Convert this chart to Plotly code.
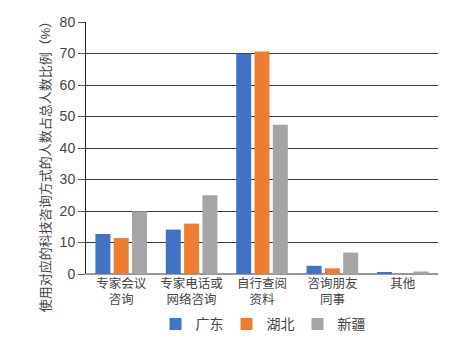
import plotly.graph_objects as go

categories = ["专家会议<br>咨询", "专家电话或<br>网络咨询", "自行查阅<br>资料", "咨询朋友<br>同事", "其他"]
guangdong = [12.7, 14.1, 69.9, 2.6, 0.5]
hubei = [11.4, 16.0, 70.6, 1.8, 0.0]
xinjiang = [19.9, 25.0, 47.4, 6.8, 0.8]
series_names = ["广东", "湖北", "新疆"]
colors = ["#4472C4", "#ED7D31", "#A5A5A5"]
y_title = "使用对应的科技咨询方式的人数占总人数比例（%）"

font_family = "Liberation Sans, Noto Sans CJK SC, sans-serif"

fig = go.Figure()
for name, vals, c in zip(series_names, [guangdong, hubei, xinjiang], colors):
    fig.add_trace(go.Bar(x=categories, y=vals, name=name, marker=dict(color=c, line=dict(width=0))))

fig.update_layout(
    width=455, height=339,
    margin=dict(l=86, r=17, t=22, b=65, autoexpand=False),
    paper_bgcolor="white", plot_bgcolor="white",
    barmode="group", bargap=0.22, bargroupgap=0.18,
    font=dict(family=font_family, size=13, color="#444444"),
    showlegend=True,
    legend=dict(orientation="h", x=0.5, xanchor="center", y=-0.2, yanchor="middle",
                font=dict(size=14, color="#444444"), itemwidth=30, traceorder="normal",
                entrywidth=26, entrywidthmode="pixels"),
    xaxis=dict(showgrid=False, showline=False, ticks="", tickfont=dict(size=12.5, color="#444444"),
               zeroline=False),
    yaxis=dict(range=[0, 80], dtick=10, showgrid=True, gridcolor="#3a3a3a", gridwidth=1,
               showline=True, linecolor="#222222", linewidth=1, ticks="outside", ticklen=7,
               tickcolor="#555555", tickfont=dict(size=14, color="#444444"),
               zeroline=True, zerolinecolor="#999999", zerolinewidth=2),
    annotations=[dict(text=y_title, textangle=-90, xref="paper", yref="paper",
                      x=-0.116, y=0.44, xanchor="center", yanchor="middle", showarrow=False,
                      font=dict(size=13, color="#444444"))],
)

fig.write_html("out.html")
